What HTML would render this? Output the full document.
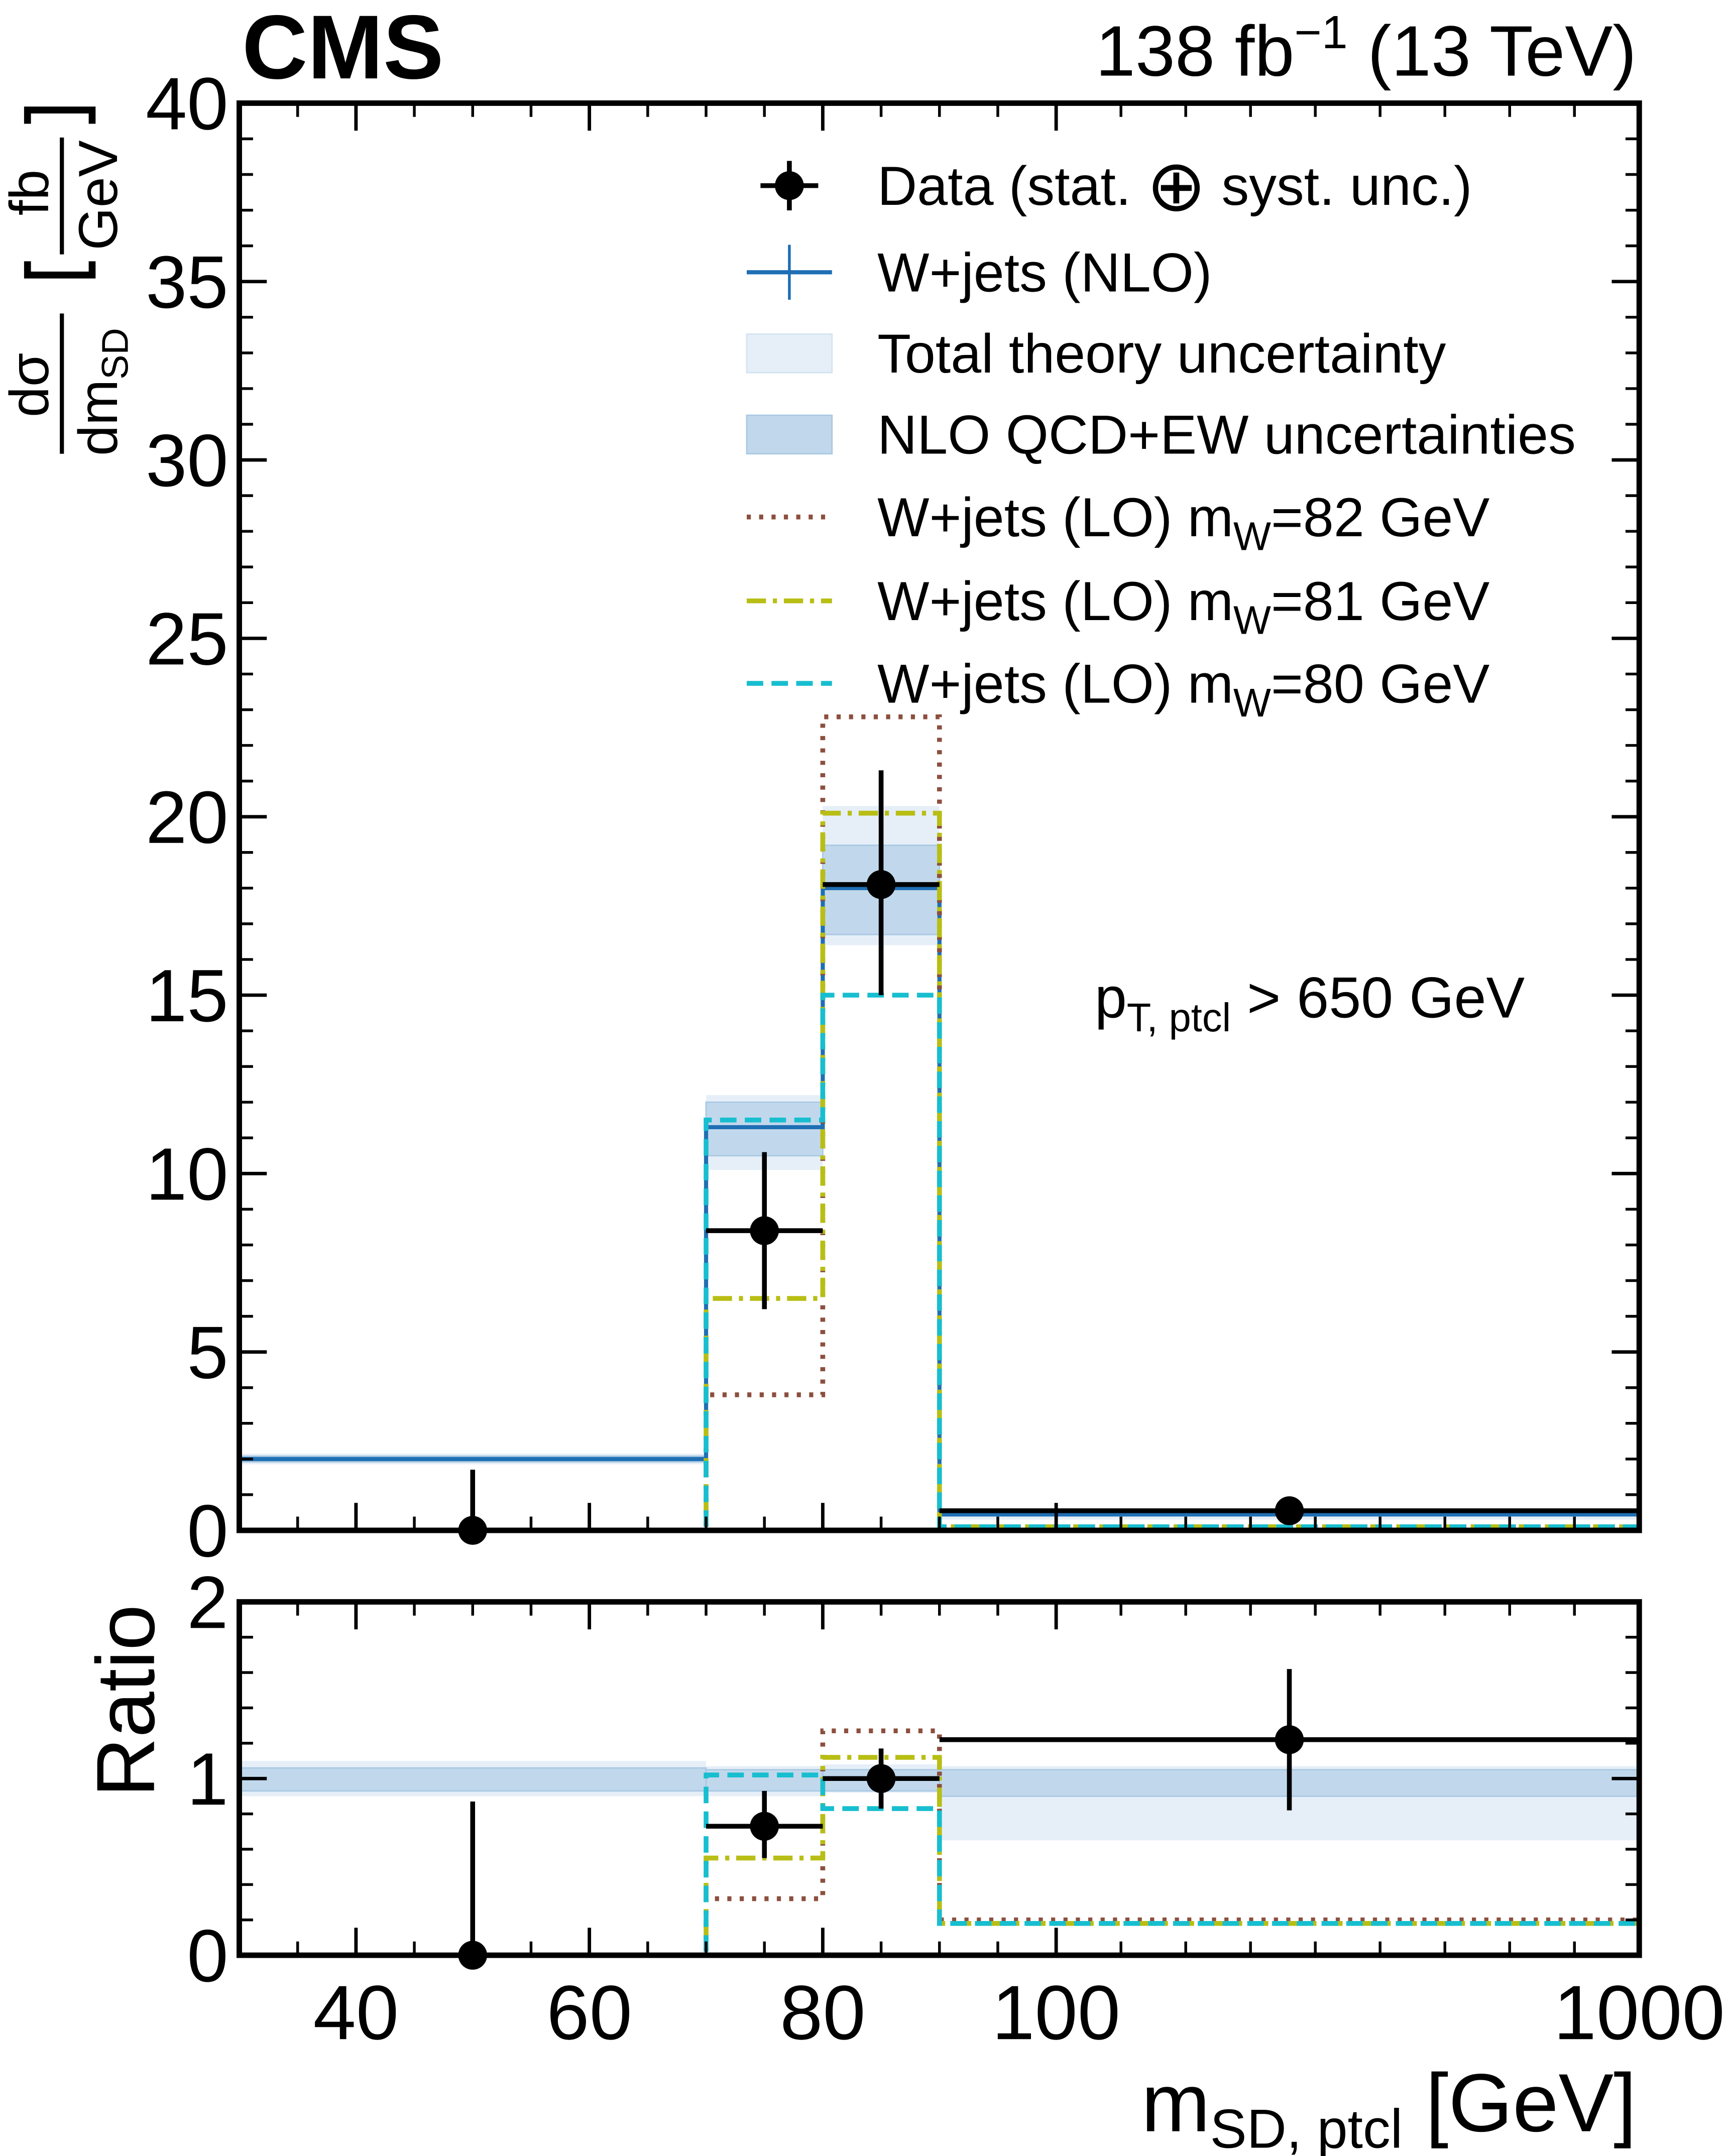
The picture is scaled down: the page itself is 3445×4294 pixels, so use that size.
<!DOCTYPE html>
<html><head><meta charset="utf-8"><style>
html,body{margin:0;padding:0;background:#fff}
svg{display:block}
text{font-family:"Liberation Sans",sans-serif;fill:#000}
</style></head><body>
<svg id="chart" width="3445" height="4294" viewBox="0 0 1258 1568" xmlns="http://www.w3.org/2000/svg">
<g id="main"></g>
<g id="ratio"></g>
<text x="176" y="57" font-size="66" font-weight="bold">CMS</text>
<text x="1190" y="55" font-size="52" text-anchor="end">138 fb<tspan dy="-20" font-size="34">−1</tspan><tspan dy="20"> (13 TeV)</tspan></text>
<text x="796" y="740" font-size="42">p<tspan dy="10" font-size="29">T, ptcl</tspan><tspan dy="-10"> &gt; 650 GeV</tspan></text>
<text x="1190" y="1550" font-size="60" text-anchor="end">m<tspan dy="12" font-size="40">SD, ptcl</tspan><tspan dy="-12"> [GeV]</tspan></text>
<g>
 <g transform="rotate(-90)">
  <text x="-280" y="35" font-size="40" text-anchor="middle">dσ</text>
  <line x1="-330" x2="-228" y1="45" y2="45" stroke="#000" stroke-width="3"/>
  <text x="-285" y="85" font-size="40" text-anchor="middle">dm<tspan dy="8" font-size="27">SD</tspan></text>
  <text x="-140" y="35" font-size="40" text-anchor="middle">fb</text>
  <line x1="-185" x2="-100" y1="45" y2="45" stroke="#000" stroke-width="3"/>
  <text x="-142" y="85" font-size="40" text-anchor="middle">GeV</text>
 </g>
 <path d="M20,90 V80 H67 V90" fill="none" stroke="#000" stroke-width="5"/>
 <path d="M20,190 V200 H67 V190" fill="none" stroke="#000" stroke-width="5"/>
</g>
<text transform="translate(112,1237) rotate(-90)" font-size="60" text-anchor="middle">Ratio</text>
<g id="legend"></g>
</svg>
<script>
const binEdges=[30,70,80,90,1000];
const dataVals=[0,8.4,18.1,0.55];
const dataLo=[0,6.2,15.0,0.4];
const dataHi=[1.7,10.6,21.3,0.7];
const nloVals=[2.0,11.3,18.0,0.45];
const totLo=[1.85,10.1,16.4,0.3];
const totHi=[2.15,12.2,20.3,0.55];
const nloLo=[1.92,10.5,16.7,0.4];
const nloHi=[2.08,12.0,19.2,0.5];
const lo82=[0,3.8,22.8,0.1];
const lo81=[0,6.5,20.1,0.1];
const lo80=[0,11.5,15.0,0.1];
const rData=[0,0.73,1.0,1.22];
const rDataLo=[0,0.55,0.83,0.82];
const rDataHi=[0.87,0.93,1.17,1.62];
const rTotLo=[0.9,0.9,0.92,0.65];
const rTotHi=[1.1,1.07,1.08,1.07];
const rNloLo=[0.93,0.93,0.93,0.9];
const rNloHi=[1.06,1.05,1.05,1.05];
const r82=[0,0.32,1.27,0.2];
const r81=[0,0.55,1.12,0.18];
const r80=[0,1.02,0.83,0.18];
const mainYTicks=[0,5,10,15,20,25,30,35,40];
const ratioYTicks=[0,1,2];
const xTicks=[40,60,80,100,1000];

const NS="http://www.w3.org/2000/svg";
const L=174,R=1192;
function xs(v){return v<=100?174+(v-30)*(594/70):768+(v-100)*(424/900);}
function xc(i){return (xs(binEdges[i])+xs(binEdges[i+1]))/2;}
const yM=v=>1113-v*(1038/40);
const yR=v=>1422-v*(257/2);
function el(p,t,a){const e=document.createElementNS(NS,t);for(const k in a)e.setAttribute(k,a[k]);p.appendChild(e);return e;}
function stepPath(vals,y,start0){let d="";for(let i=0;i<vals.length;i++){const x0=xs(binEdges[i]),x1=xs(binEdges[i+1]);d+=(i==0?(start0?"M"+x0+","+y(0)+"L":"M"):"L")+x0+","+y(vals[i])+"L"+x1+","+y(vals[i]);}return d;}

function panel(g,y,top,bot,yTicks,minorStep,ymax,vals){
 for(let i=0;i<4;i++){
  const r=el(g,"rect",{x:xs(binEdges[i]),y:y(vals.totHi[i]),width:xs(binEdges[i+1])-xs(binEdges[i]),height:y(vals.totLo[i])-y(vals.totHi[i]),fill:"#e6eff8"});
  
  
 }
 for(let i=0;i<4;i++){
  const r=el(g,"rect",{x:xs(binEdges[i]),y:y(vals.nloHi[i]),width:xs(binEdges[i+1])-xs(binEdges[i]),height:y(vals.nloLo[i])-y(vals.nloHi[i]),fill:"#c1d8ec",stroke:"#a9c8e3","stroke-width":1});
  
  
 }
 if(vals.nlo){const p=el(g,"path",{d:stepPath(vals.nlo,y,false),fill:"none",stroke:"#1f6fb4","stroke-width":3});
  }
 const styles=[[vals.l82,"#8c4f3f","3,6","lo-mw82-line"],[vals.l81,"#b8be14","14,5,3,5","lo-mw81-line"],[vals.l80,"#17becf","12,6","lo-mw80-line"]];
 for(const s of styles){const p=el(g,"path",{d:stepPath(s[0],y,true),fill:"none",stroke:s[1],"stroke-width":3.5,"stroke-dasharray":s[2]});
  }
 for(let i=0;i<4;i++){
  const gp=el(g,"g",{});
  
  
  el(gp,"line",{x1:xs(binEdges[i]),x2:xs(binEdges[i+1]),y1:y(vals.d[i]),y2:y(vals.d[i]),stroke:"#000","stroke-width":3.5});
  el(gp,"line",{x1:xc(i),x2:xc(i),y1:y(vals.dl[i]),y2:y(vals.dh[i]),stroke:"#000","stroke-width":3.5});
  el(gp,"circle",{cx:xc(i),cy:y(vals.d[i]),r:10.5,fill:"#000"});
 }
 el(g,"rect",{x:L,y:top,width:R-L,height:bot-top,fill:"none",stroke:"#000","stroke-width":4});
 for(let v=0;v<=ymax+1e-9;v+=minorStep){const yy=y(v);el(g,"line",{x1:L,x2:L+10,y1:yy,y2:yy,stroke:"#000","stroke-width":2});el(g,"line",{x1:R,x2:R-10,y1:yy,y2:yy,stroke:"#000","stroke-width":2});}
 for(const v of yTicks){const yy=y(v);el(g,"line",{x1:L,x2:L+20,y1:yy,y2:yy,stroke:"#000","stroke-width":2.5});el(g,"line",{x1:R,x2:R-20,y1:yy,y2:yy,stroke:"#000","stroke-width":2.5});
  const t=el(g,"text",{x:L-8,y:yy+19,"font-size":54,"text-anchor":"end"});t.textContent=v;
  }
 const minors=[];for(let v=35;v<=95;v+=5)minors.push(v);for(let v=200;v<=900;v+=100)minors.push(v);
 for(const v of minors){const xx=xs(v);el(g,"line",{x1:xx,x2:xx,y1:bot,y2:bot-10,stroke:"#000","stroke-width":2});el(g,"line",{x1:xx,x2:xx,y1:top,y2:top+10,stroke:"#000","stroke-width":2});}
 for(const v of xTicks){const xx=xs(v);el(g,"line",{x1:xx,x2:xx,y1:bot,y2:bot-20,stroke:"#000","stroke-width":2.5});el(g,"line",{x1:xx,x2:xx,y1:top,y2:top+20,stroke:"#000","stroke-width":2.5});}
}
panel(document.getElementById("main"),yM,75,1113,mainYTicks,1,40,{totLo,totHi,nloLo,nloHi,nlo:nloVals,l82:lo82,l81:lo81,l80:lo80,d:dataVals,dl:dataLo,dh:dataHi});
panel(document.getElementById("ratio"),yR,1165,1422,ratioYTicks,0.2,2,{totLo:rTotLo,totHi:rTotHi,nloLo:rNloLo,nloHi:rNloHi,nlo:null,l82:r82,l81:r81,l80:r80,d:rData,dl:rDataLo,dh:rDataHi});
const rg=document.getElementById("ratio");
for(const v of xTicks){const t=el(rg,"text",{x:xs(v),y:1483,"font-size":56,"text-anchor":"middle"});t.textContent=v;
 }

const lg=document.getElementById("legend");
const legY=[135,198,257,316,376,437,497];
const legText=["Data (stat. <tspan font-size='52' dy='4'>⊕</tspan><tspan dy='-4'> syst. unc.)</tspan>","W+jets (NLO)","Total theory uncertainty","NLO QCD+EW uncertainties","W+jets (LO) m<tspan dy='10' font-size='29'>W</tspan><tspan dy='-10'>=82 GeV</tspan>","W+jets (LO) m<tspan dy='10' font-size='29'>W</tspan><tspan dy='-10'>=81 GeV</tspan>","W+jets (LO) m<tspan dy='10' font-size='29'>W</tspan><tspan dy='-10'>=80 GeV</tspan>"];
for(let i=0;i<7;i++){
 const g=el(lg,"g",{});
 
 
 const y=legY[i];
 if(i==0){el(g,"line",{x1:553,x2:595,y1:y,y2:y,stroke:"#000","stroke-width":3.5});el(g,"line",{x1:574,x2:574,y1:y-18,y2:y+18,stroke:"#000","stroke-width":3.5});el(g,"circle",{cx:574,cy:y,r:10.5,fill:"#000"});}
 if(i==1){el(g,"line",{x1:543,x2:605,y1:y,y2:y,stroke:"#1f6fb4","stroke-width":3});el(g,"line",{x1:574,x2:574,y1:y-20,y2:y+20,stroke:"#1f6fb4","stroke-width":2});}
 if(i==2)el(g,"rect",{x:543,y:y-14,width:62,height:28,fill:"#e6eff8",stroke:"#d3e3f1"});
 if(i==3)el(g,"rect",{x:543,y:y-14,width:62,height:28,fill:"#c1d8ec",stroke:"#a9c8e3"});
 if(i==4)el(g,"line",{x1:543,x2:605,y1:y,y2:y,stroke:"#8c4f3f","stroke-width":3.5,"stroke-dasharray":"3,6"});
 if(i==5)el(g,"line",{x1:543,x2:605,y1:y,y2:y,stroke:"#b8be14","stroke-width":3.5,"stroke-dasharray":"14,5,3,5"});
 if(i==6)el(g,"line",{x1:543,x2:605,y1:y,y2:y,stroke:"#17becf","stroke-width":3.5,"stroke-dasharray":"12,6"});
 const t=el(g,"text",{x:638,y:y+14,"font-size":40});t.innerHTML=legText[i];
}
</script>
</body></html>
